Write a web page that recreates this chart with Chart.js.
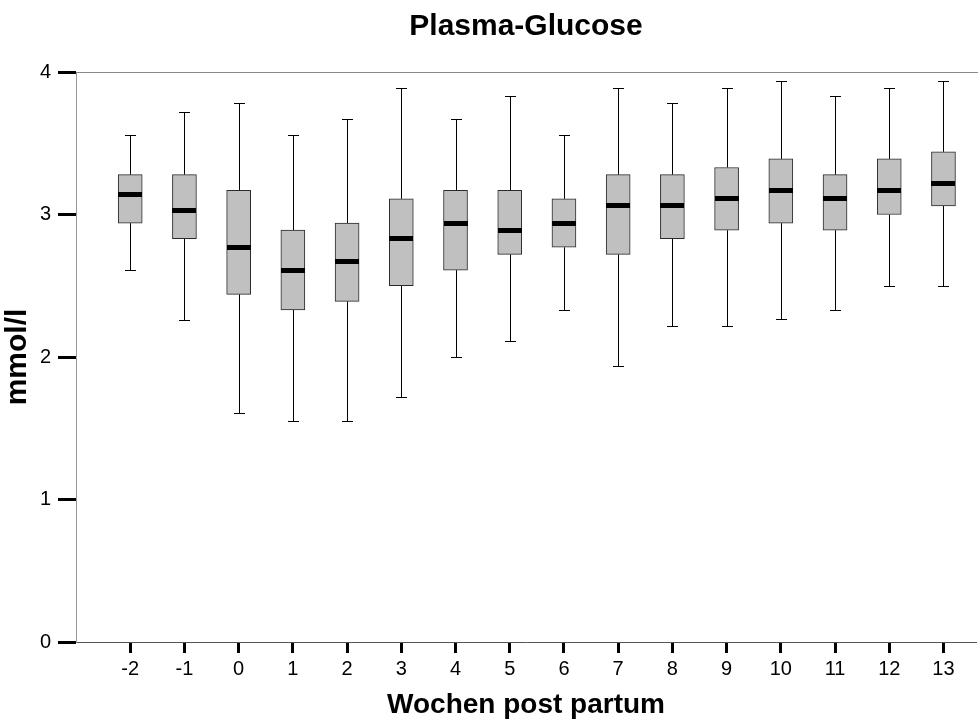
<!DOCTYPE html>
<html>
<head>
<meta charset="utf-8">
<script src="https://cdn.jsdelivr.net/npm/chart.js@4.4.0/dist/chart.umd.min.js"></script>
<style>
  html, body { margin: 0; padding: 0; background: #fff; }
  #wrap { width: 978px; height: 724px; }
</style>
</head>
<body>
<div id="wrap"><canvas id="c" width="978" height="724"></canvas></div>
<script>
// Weeks relative to calving and the five-number summary per week (mmol/l)
const weeks      = [-2, -1, 0, 1, 2, 3, 4, 5, 6, 7, 8, 9, 10, 11, 12, 13];
const whiskerMin = [2.61, 2.26, 1.61, 1.55, 1.55, 1.72, 2.00, 2.11, 2.33, 1.94, 2.22, 2.22, 2.27, 2.33, 2.50, 2.50];
const quartile1  = [2.94, 2.83, 2.44, 2.33, 2.39, 2.50, 2.61, 2.72, 2.77, 2.72, 2.83, 2.89, 2.94, 2.89, 3.00, 3.06];
const medians    = [3.14, 3.03, 2.77, 2.61, 2.67, 2.83, 2.94, 2.89, 2.94, 3.06, 3.06, 3.11, 3.17, 3.11, 3.17, 3.22];
const quartile3  = [3.28, 3.28, 3.17, 2.89, 2.94, 3.11, 3.17, 3.17, 3.11, 3.28, 3.28, 3.33, 3.39, 3.28, 3.39, 3.44];
const whiskerMax = [3.56, 3.72, 3.78, 3.56, 3.67, 3.89, 3.67, 3.83, 3.56, 3.89, 3.78, 3.89, 3.94, 3.83, 3.89, 3.94];
const yTicks     = [0, 1, 2, 3, 4];

const FONT = "'Liberation Sans', Arial, sans-serif";
const BOX_W = 24;
const CAP_W = 11;

// Whiskers + caps under the boxes, median bars on top of them
const boxplotParts = {
  id: 'boxplotParts',
  beforeDatasetsDraw(chart) {
    const { ctx, scales: { x, y } } = chart;
    ctx.save();
    ctx.strokeStyle = '#000';
    ctx.lineWidth = 1;
    weeks.forEach((w, i) => {
      const px = Math.round(x.getPixelForValue(w)) + 0.5;
      const yMax = Math.round(y.getPixelForValue(whiskerMax[i])) + 0.5;
      const yQ3 = y.getPixelForValue(quartile3[i]);
      const yQ1 = y.getPixelForValue(quartile1[i]);
      const yMin = Math.round(y.getPixelForValue(whiskerMin[i])) + 0.5;
      ctx.beginPath();
      ctx.moveTo(px, yMax); ctx.lineTo(px, yQ3);
      ctx.moveTo(px, yQ1); ctx.lineTo(px, yMin);
      ctx.moveTo(px - CAP_W / 2, yMax); ctx.lineTo(px + CAP_W / 2, yMax);
      ctx.moveTo(px - CAP_W / 2, yMin); ctx.lineTo(px + CAP_W / 2, yMin);
      ctx.stroke();
    });
    ctx.restore();
  },
  afterDatasetsDraw(chart) {
    const { ctx, scales: { x, y } } = chart;
    ctx.save();
    ctx.fillStyle = '#000';
    weeks.forEach((w, i) => {
      const px = x.getPixelForValue(w);
      const pm = y.getPixelForValue(medians[i]);
      ctx.fillRect(Math.round(px - BOX_W / 2), Math.round(pm - 2.5), BOX_W, 5);
    });
    ctx.restore();
  }
};

// Thin frame line along the top of the plot area, running to the canvas edge
const topLine = {
  id: 'topLine',
  afterDraw(chart) {
    const { ctx, chartArea } = chart;
    ctx.save();
    ctx.strokeStyle = '#8a8a8a';
    ctx.lineWidth = 1;
    ctx.beginPath();
    ctx.moveTo(chartArea.left, Math.round(chartArea.top) + 0.5);
    ctx.lineTo(chart.width, Math.round(chartArea.top) + 0.5);
    ctx.stroke();
    ctx.restore();
  }
};

new Chart(document.getElementById('c'), {
  type: 'bar',
  data: {
    datasets: [{
      data: weeks.map((w, i) => ({ x: w, y: [quartile1[i], quartile3[i]] })),
      backgroundColor: '#c0c0c0',
      borderColor: '#2a2a2a',
      borderWidth: 1,
      borderSkipped: false,
      barThickness: BOX_W
    }]
  },
  options: {
    responsive: false,
    animation: false,
    layout: { padding: { left: 0, right: 2, top: 0, bottom: 0 } },
    plugins: {
      legend: { display: false },
      tooltip: { enabled: false },
      title: {
        display: true,
        text: 'Plasma-Glucose',
        fullSize: false,
        color: '#000',
        font: { family: FONT, size: 30, weight: 'bold' },
        padding: { top: 9, bottom: 27 }
      }
    },
    scales: {
      x: {
        type: 'linear',
        min: -3,
        max: 13.6,
        offset: false,
        afterBuildTicks: s => { s.ticks = weeks.map(v => ({ value: v })); },
        afterFit: s => { s.height = 82; },
        ticks: { color: '#000', font: { family: FONT, size: 20 }, padding: 4, maxRotation: 0, autoSkip: false },
        grid: { drawOnChartArea: false, offset: false, tickLength: 11, tickWidth: 3, tickColor: '#000' },
        border: { color: '#555', width: 1 },
        title: {
          display: true,
          text: 'Wochen post partum',
          color: '#000',
          font: { family: FONT, size: 28, weight: 'bold' },
          padding: { top: 0, bottom: 2 }
        }
      },
      y: {
        min: 0,
        max: 4,
        afterBuildTicks: s => { s.ticks = yTicks.map(v => ({ value: v })); },
        afterFit: s => { s.width = 76; },
        ticks: { color: '#000', font: { family: FONT, size: 20 }, padding: 7 },
        grid: { drawOnChartArea: false, tickLength: 18, tickWidth: 3, tickColor: '#000' },
        border: { color: '#999', width: 1 },
        title: {
          display: true,
          text: 'mmol/l',
          color: '#000',
          font: { family: FONT, size: 30, weight: 'bold' },
          padding: { top: 0, bottom: 0 }
        }
      }
    }
  },
  plugins: [boxplotParts, topLine]
});
</script>
</body>
</html>
